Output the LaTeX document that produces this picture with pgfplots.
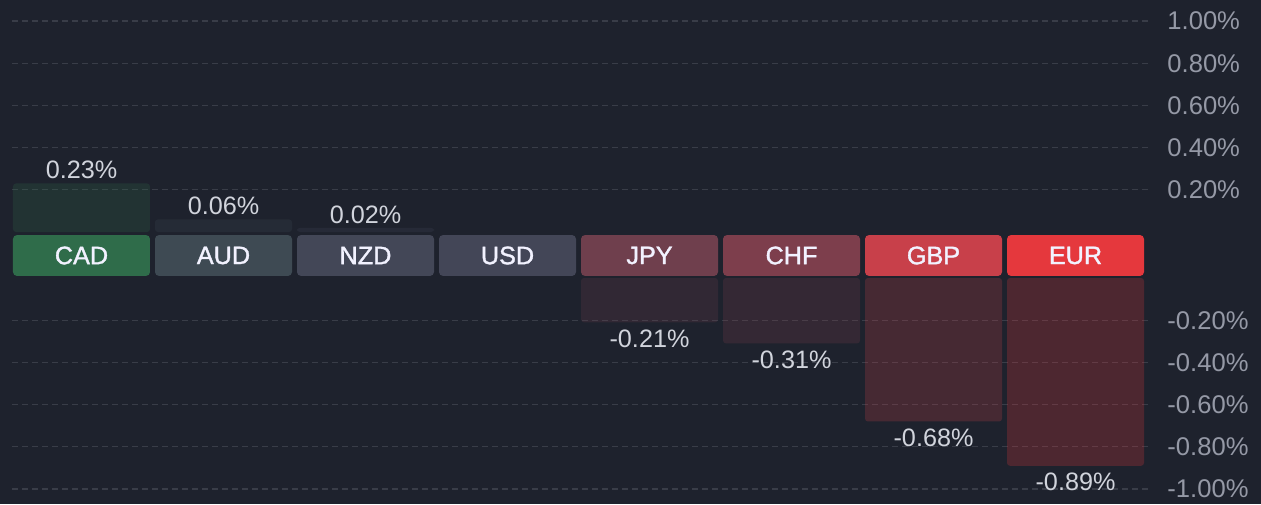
\documentclass[border=0pt]{standalone}
\usepackage{fontspec}
\setmainfont{Liberation Sans}
\newfontfamily\tagfont[FakeBold=1.4]{Liberation Sans}
\usepackage{pgfplots}
\pgfplotsset{compat=1.18}

\definecolor{bg}{HTML}{1E222D}
\definecolor{gridc}{HTML}{393D48}
\definecolor{tickc}{HTML}{9599A6}
\definecolor{valc}{HTML}{D1D4DC}
\definecolor{cad}{HTML}{2F6C4A}
\definecolor{aud}{HTML}{3E4A53}
\definecolor{nzd}{HTML}{434757}
\definecolor{usd}{HTML}{434657}
\definecolor{jpy}{HTML}{6F3F4D}
\definecolor{chf}{HTML}{7D3E4C}
\definecolor{gbp}{HTML}{C8404A}
\definecolor{eur}{HTML}{E5383D}

\pgfplotsset{
  fx/.style={
    scale only axis, width=569pt,
    xmin=-0.4894, xmax=7.5246,
    xtick=\empty,
    axis line style={draw=none},
    tick style={draw=none},
    major tick length=0pt,
    ymajorgrids=true,
    grid style={gridc, line width=0.6pt, dash pattern=on 3pt off 2pt},
    yticklabel pos=right,
    yticklabel style={anchor=west, inner sep=0pt, xshift=8.5pt, font=\fontsize{12.8}{14}\selectfont, text=tickc},
    /pgf/number format/assume math mode=true,
    yticklabel={\pgfmathprintnumber[fixed,fixed zerofill,precision=2]{\tick}\%},
    clip=false,
  },
  body/.style={ybar, bar width=68.5pt, bar shift=0pt, draw=none, fill=#1, fill opacity=0.24, rounded corners=1.5pt},
  up/.style={nodes near coords={\pgfmathprintnumber[fixed,fixed zerofill,precision=2,assume math mode=true]{\pgfplotspointmeta}\%},
    every node near coord/.style={anchor=south, inner sep=0pt, yshift=2pt, text=valc, text opacity=1, font=\fontsize{12.6}{14}\selectfont}},
  dn/.style={nodes near coords={\pgfmathprintnumber[fixed,fixed zerofill,precision=2,assume math mode=true]{\pgfplotspointmeta}\%},
    every node near coord/.style={anchor=north, inner sep=0pt, yshift=-3.5pt, text=valc, text opacity=1, font=\fontsize{12.6}{14}\selectfont}},
  tag/.style={ybar, bar width=68.5pt, bar shift=0pt, draw=none, fill=#1, rounded corners=2pt},
}

\begin{document}
\begin{tikzpicture}
\fill[bg] (0,0) rectangle (630.5pt,252pt);

% gains
\begin{axis}[fx, at={(6pt,136pt)}, anchor=south west, height=116pt,
  ymin=0, ymax=1.1, ytick={0.2,0.4,0.6,0.8,1.0}]
  \addplot[body=cad, up] coordinates {(0,0.23)};
  \addplot[body=aud, up] coordinates {(1,0.06)};
  \addplot[body=nzd, up] coordinates {(2,0.02)};
\end{axis}

% currency band
\begin{axis}[fx, at={(6pt,113pt)}, anchor=south west, height=22.5pt,
  ymin=-0.05, ymax=1.05, ytick=\empty, ymajorgrids=false]
  \addplot[tag=cad] coordinates {(0,1)};
  \addplot[tag=aud] coordinates {(1,1)};
  \addplot[tag=nzd] coordinates {(2,1)};
  \addplot[tag=usd] coordinates {(3,1)};
  \addplot[tag=jpy] coordinates {(4,1)};
  \addplot[tag=chf] coordinates {(5,1)};
  \addplot[tag=gbp] coordinates {(6,1)};
  \addplot[tag=eur] coordinates {(7,1)};
  \addplot[draw=none, nodes near coords, point meta=explicit symbolic,
    every node near coord/.style={anchor=center, text=white!95!blue, font=\tagfont\fontsize{12.6}{14}\selectfont}]
    coordinates {(0,0.5)[CAD] (1,0.5)[AUD] (2,0.5)[NZD] (3,0.5)[USD]
                 (4,0.5)[JPY] (5,0.5)[CHF] (6,0.5)[GBP] (7,0.5)[EUR]};
\end{axis}

% losses
\begin{axis}[fx, at={(6pt,0pt)}, anchor=south west, height=113pt,
  ymin=-1.071, ymax=0, ytick={-1.0,-0.8,-0.6,-0.4,-0.2}]
  \addplot[body=jpy, dn] coordinates {(4,-0.21)};
  \addplot[body=chf, dn] coordinates {(5,-0.31)};
  \addplot[body=gbp, dn] coordinates {(6,-0.68)};
  \addplot[body=eur, dn] coordinates {(7,-0.89)};
\end{axis}
\end{tikzpicture}
\end{document}
